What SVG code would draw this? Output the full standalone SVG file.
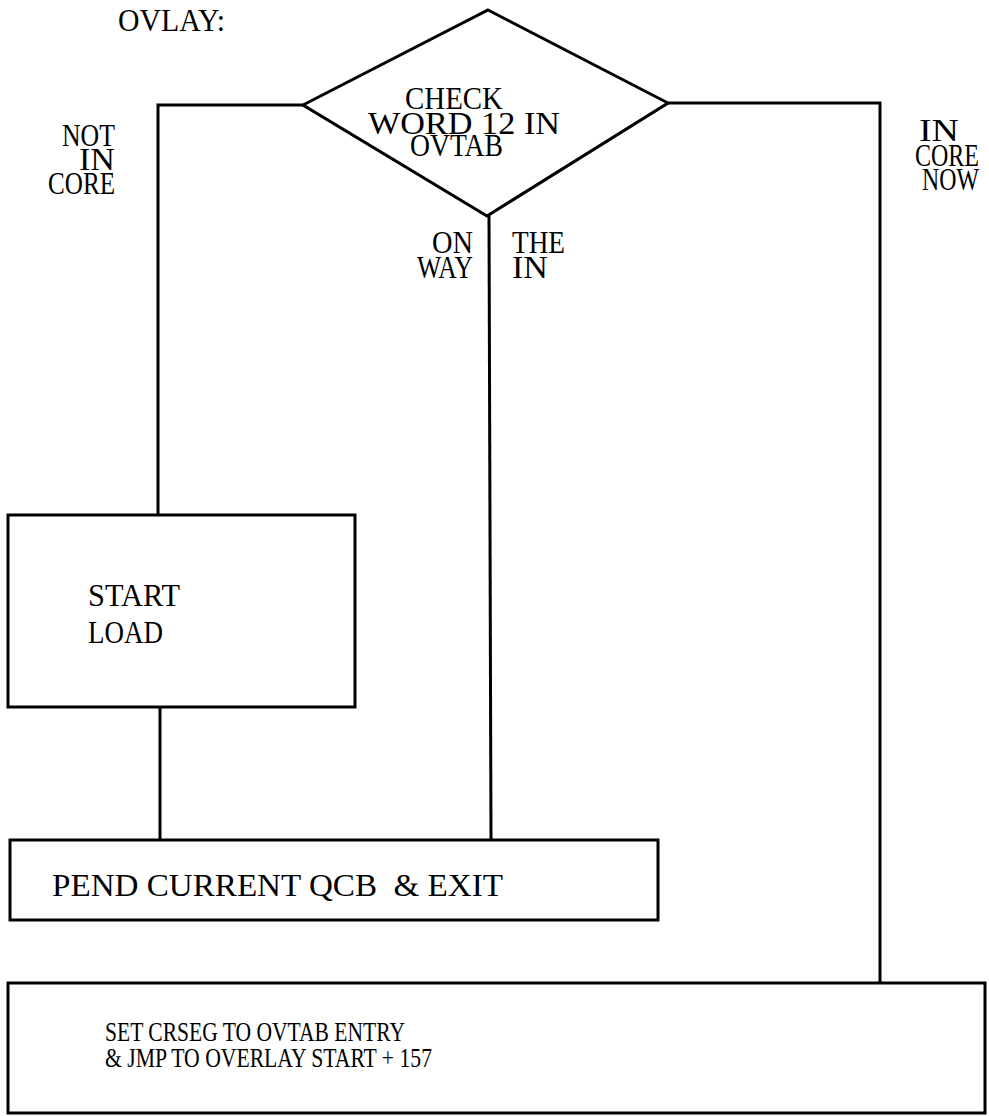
<svg xmlns="http://www.w3.org/2000/svg" width="989" height="1116" viewBox="0 0 989 1116">
<style>
.ln{fill:none;stroke:#000;stroke-width:3;stroke-linejoin:miter}
.bx{fill:#fff;stroke:#000;stroke-width:3}
.t{font-family:"Liberation Serif","Times New Roman",serif;font-size:31px;fill:#000;white-space:pre}
.s{font-family:"Liberation Serif","Times New Roman",serif;font-size:27px;fill:#000;white-space:pre}
</style>
<rect width="989" height="1116" fill="#fff"/>
<text class="t" x="118" y="31" textLength="107" lengthAdjust="spacingAndGlyphs">OVLAY:</text>
<g id="connectors">
<polyline class="ln" points="303,105 158,105 158,515"/>
<line class="ln" x1="160" y1="707" x2="160" y2="841"/>
<line class="ln" x1="489" y1="216" x2="491" y2="840"/>
<polyline class="ln" points="668,103 880,103 880,983"/>
</g>
<g id="labels">
<text class="t" x="115" y="146" text-anchor="end" textLength="53" lengthAdjust="spacingAndGlyphs">NOT</text>
<text class="t" x="115" y="170" text-anchor="end" textLength="36" lengthAdjust="spacingAndGlyphs">IN</text>
<text class="t" x="115" y="194" text-anchor="end" textLength="67" lengthAdjust="spacingAndGlyphs">CORE</text>
<text class="t" x="919" y="141" textLength="40" lengthAdjust="spacingAndGlyphs">IN</text>
<text class="t" x="915" y="166" textLength="64" lengthAdjust="spacingAndGlyphs">CORE</text>
<text class="t" x="922" y="190" textLength="57" lengthAdjust="spacingAndGlyphs">NOW</text>
<text class="t" x="473" y="253" text-anchor="end" textLength="41" lengthAdjust="spacingAndGlyphs">ON</text>
<text class="t" x="473" y="278" text-anchor="end" textLength="56" lengthAdjust="spacingAndGlyphs">WAY</text>
<text class="t" x="512" y="253" textLength="53" lengthAdjust="spacingAndGlyphs">THE</text>
<text class="t" x="512" y="278" textLength="36" lengthAdjust="spacingAndGlyphs">IN</text>
</g>
<g id="check">
<polygon class="bx" points="488,10 668,103 487,216 303,105"/>
<text class="t" x="405" y="109" textLength="98" lengthAdjust="spacingAndGlyphs">CHECK</text>
<text class="t" x="368" y="134" textLength="192" lengthAdjust="spacingAndGlyphs">WORD 12 IN</text>
<text class="t" x="410" y="156" textLength="93" lengthAdjust="spacingAndGlyphs">OVTAB</text>
</g>
<g id="startload">
<rect class="bx" x="8" y="515" width="347" height="192"/>
<text class="t" x="88" y="606" textLength="92" lengthAdjust="spacingAndGlyphs">START</text>
<text class="t" x="88" y="643" textLength="75" lengthAdjust="spacingAndGlyphs">LOAD</text>
</g>
<g id="pend">
<rect class="bx" x="10" y="840" width="648" height="80"/>
<text class="t" x="52" y="896" textLength="451" lengthAdjust="spacingAndGlyphs">PEND CURRENT QCB  &amp; EXIT</text>
</g>
<g id="setcrseg">
<rect class="bx" x="8" y="983" width="977" height="130"/>
<text class="s" x="105" y="1041" textLength="300" lengthAdjust="spacingAndGlyphs">SET CRSEG TO OVTAB ENTRY</text>
<text class="s" x="105" y="1067" textLength="327" lengthAdjust="spacingAndGlyphs">&amp; JMP TO OVERLAY START + 157</text>
</g>
</svg>
